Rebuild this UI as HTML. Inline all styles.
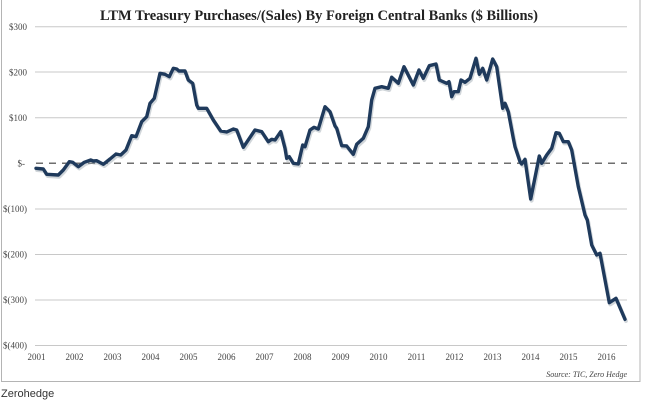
<!DOCTYPE html>
<html><head><meta charset="utf-8"><style>
html,body{margin:0;padding:0;background:#fff;width:645px;height:401px;overflow:hidden}
svg{display:block}
</style></head><body>
<svg width="645" height="401" viewBox="0 0 645 401" xmlns="http://www.w3.org/2000/svg">
<rect x="1.5" y="-2" width="638.5" height="383.5" fill="#fff" stroke="#b4b4b4" stroke-width="1"/>
<text x="319" y="20" font-family="Liberation Serif, serif" font-weight="bold" font-size="14.5" fill="#222" text-anchor="middle" textLength="438" lengthAdjust="spacingAndGlyphs">LTM Treasury Purchases/(Sales) By Foreign Central Banks ($ Billions)</text>
<g stroke="#c8c8c8" stroke-width="1">
<line x1="35" y1="26.7" x2="627" y2="26.7"/>
<line x1="35" y1="72" x2="627" y2="72"/>
<line x1="35" y1="117.7" x2="627" y2="117.7"/>
<line x1="35" y1="209" x2="627" y2="209"/>
<line x1="35" y1="254.5" x2="627" y2="254.5"/>
<line x1="35" y1="300" x2="627" y2="300"/>
<line x1="35" y1="345.5" x2="627" y2="345.5"/>
</g>
<line x1="36" y1="163.3" x2="627" y2="163.3" stroke="#6e6e6e" stroke-width="1.5" stroke-dasharray="7,6"/>
<g font-family="Liberation Serif, serif" font-size="9" fill="#444" text-anchor="end">
<text x="27" y="30">$300</text>
<text x="27" y="75.5">$200</text>
<text x="27" y="121">$100</text>
<text x="25" y="166.5">$-</text>
<text x="27" y="212">$(100)</text>
<text x="27" y="257.5">$(200)</text>
<text x="27" y="303">$(300)</text>
<text x="27" y="348.5">$(400)</text>
</g>
<g font-family="Liberation Serif, serif" font-size="9" fill="#444" text-anchor="middle">
<text x="36.5" y="360">2001</text>
<text x="74.5" y="360">2002</text>
<text x="112.5" y="360">2003</text>
<text x="150.5" y="360">2004</text>
<text x="188.5" y="360">2005</text>
<text x="226.5" y="360">2006</text>
<text x="264.5" y="360">2007</text>
<text x="302.5" y="360">2008</text>
<text x="340.5" y="360">2009</text>
<text x="378.5" y="360">2010</text>
<text x="416.5" y="360">2011</text>
<text x="454.5" y="360">2012</text>
<text x="492.5" y="360">2013</text>
<text x="530.5" y="360">2014</text>
<text x="568.5" y="360">2015</text>
<text x="606.5" y="360">2016</text>
</g>
<text x="627" y="377" font-family="Liberation Serif, serif" font-style="italic" font-size="8" fill="#444" text-anchor="end">Source: TIC, Zero Hedge</text>
<g fill="none" stroke-linejoin="round" stroke-linecap="round">
<polyline transform="translate(1,1.8)" stroke="#9aa3ad" stroke-opacity="0.45" stroke-width="3.8" points="36,168.3 43.3,169 46.7,174.3 58.3,175 63.3,170 69.3,161.7 72.7,162.3 78.3,166.7 84.3,162.3 90.7,160 93.3,161 96.7,160.7 103.3,164.3 110,159 116,154 120.7,155 126,150 131.7,135.7 136,136.7 141.7,121.7 146.7,116.7 150,103.3 154.3,98.3 160,73.3 165,74.3 169.3,76.7 173.3,68.3 176.7,69 179,71 185,71 188.3,80 192.7,83.3 196.7,105 198.3,108.3 206.7,108.3 213.3,120 220.7,131 226.7,132 233.3,129 236.7,130 243.3,147.3 255,130 261.7,131.7 268.3,141.7 271.7,139.3 275,140 280.7,131.7 285,148.3 286.7,158.3 289.3,156.7 293.3,163.3 298.3,164 302.7,145 305,146.7 310,130 314,127.3 318.3,129 325,106.7 330,111.7 335,126 336.7,128.3 341.7,145.7 346.7,146 353.3,154.3 356.7,144.3 363.3,138.3 368.3,126.7 371.7,100 375,88.3 381.7,86.7 388.3,88.3 391.7,77.3 398.3,83.3 404,66.7 413.3,85 419,70 423.3,78.3 429.3,65.7 436,64 439.3,80 446.7,83.3 449,81.7 451.7,96.7 454,91.7 458.3,91.7 461,80 465,82.3 470,78.3 476,58.3 479.3,74.3 482.7,68.3 486.7,80 492.7,59 496.7,66.7 502.7,108.3 505,103.3 508.3,111.7 513.3,138.3 515,146.7 520,161.7 521.7,164 525,159.3 530.7,199 539.3,156 541.7,163.3 546.7,155 551.7,148.3 556,132.7 559.3,133.3 563.3,141.7 568.3,141.7 571.7,150 578.3,186.7 585,215 587.3,220 591.7,245 596.7,255 600,253.3 609.3,302.7 616,298.3 625,319.3"/>
<polyline stroke="#1f3a5c" stroke-width="3.4" points="36,168.3 43.3,169 46.7,174.3 58.3,175 63.3,170 69.3,161.7 72.7,162.3 78.3,166.7 84.3,162.3 90.7,160 93.3,161 96.7,160.7 103.3,164.3 110,159 116,154 120.7,155 126,150 131.7,135.7 136,136.7 141.7,121.7 146.7,116.7 150,103.3 154.3,98.3 160,73.3 165,74.3 169.3,76.7 173.3,68.3 176.7,69 179,71 185,71 188.3,80 192.7,83.3 196.7,105 198.3,108.3 206.7,108.3 213.3,120 220.7,131 226.7,132 233.3,129 236.7,130 243.3,147.3 255,130 261.7,131.7 268.3,141.7 271.7,139.3 275,140 280.7,131.7 285,148.3 286.7,158.3 289.3,156.7 293.3,163.3 298.3,164 302.7,145 305,146.7 310,130 314,127.3 318.3,129 325,106.7 330,111.7 335,126 336.7,128.3 341.7,145.7 346.7,146 353.3,154.3 356.7,144.3 363.3,138.3 368.3,126.7 371.7,100 375,88.3 381.7,86.7 388.3,88.3 391.7,77.3 398.3,83.3 404,66.7 413.3,85 419,70 423.3,78.3 429.3,65.7 436,64 439.3,80 446.7,83.3 449,81.7 451.7,96.7 454,91.7 458.3,91.7 461,80 465,82.3 470,78.3 476,58.3 479.3,74.3 482.7,68.3 486.7,80 492.7,59 496.7,66.7 502.7,108.3 505,103.3 508.3,111.7 513.3,138.3 515,146.7 520,161.7 521.7,164 525,159.3 530.7,199 539.3,156 541.7,163.3 546.7,155 551.7,148.3 556,132.7 559.3,133.3 563.3,141.7 568.3,141.7 571.7,150 578.3,186.7 585,215 587.3,220 591.7,245 596.7,255 600,253.3 609.3,302.7 616,298.3 625,319.3"/>
</g>
<text x="1" y="397" font-family="Liberation Sans, sans-serif" font-size="11" fill="#333">Zerohedge</text>
</svg>
</body></html>
